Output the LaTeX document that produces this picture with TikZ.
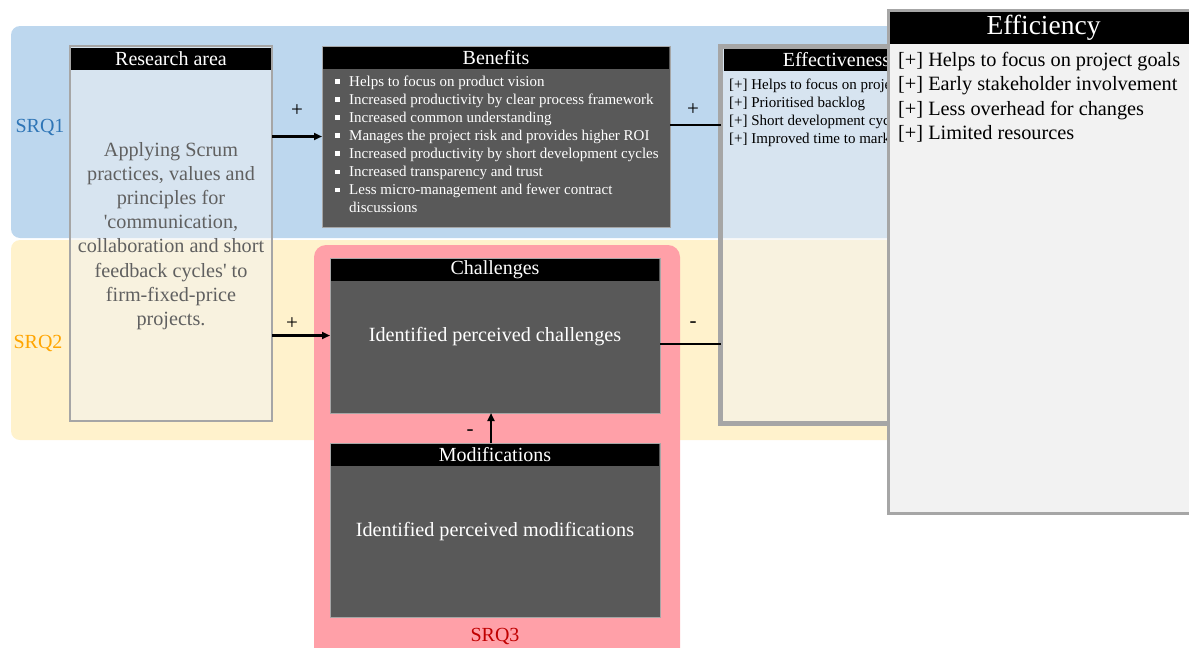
\documentclass[tikz,border=0pt]{standalone}
\usepackage{fontspec}
\setmainfont{Liberation Serif}
\usetikzlibrary{arrows.meta}

\definecolor{bandblue}{RGB}{189,215,238}
\definecolor{bandyellow}{RGB}{255,242,204}
\definecolor{srqpink}{RGB}{255,160,168}
\definecolor{darkfill}{RGB}{89,89,89}
\definecolor{framegray}{RGB}{166,166,166}
\definecolor{srqblue}{RGB}{46,117,182}
\definecolor{srqorange}{RGB}{255,165,0}
\definecolor{srqred}{RGB}{192,0,0}
\definecolor{paleGray}{RGB}{242,242,242}
\definecolor{bodygray}{RGB}{96,96,96}

\newcommand\fsz[2]{\fontsize{#1}{#2}\selectfont}
\newcommand\bul{\makebox[14pt][l]{\rule[2.5pt]{4.5pt}{4.5pt}}}
\newcommand\plusmark{{[+]}}

\tikzset{
  band/.style={anchor=north west, inner sep=0, outer sep=0, rounded corners=9pt},
  panel/.style={anchor=north west, inner sep=0, outer sep=0, draw=framegray},
  lightpanel/.style={panel, fill=paleGray, fill opacity=0.5},
  darkpanel/.style={panel, fill=darkfill, line width=1pt},
  header/.style={anchor=north, fill=black, text=white, inner sep=0, outer sep=0,
                 minimum height=22, font=\fsz{20}{22}},
  conn/.style={line width=2.5pt, draw=black},
  arr/.style={conn, -{Triangle[length=8pt,width=7pt]}},
  sign/.style={font=\fsz{21}{22}, inner sep=0},
  srq/.style={font=\fsz{20}{22}, inner sep=0},
  bodytext/.style={align=center, inner sep=0},
}

\begin{document}
\begin{tikzpicture}[x=1pt,y=-1pt]
\useasboundingbox (0,0) rectangle (1189,648);
\clip (0,0) rectangle (1189,648);

% research-question bands
\node[band, fill=bandblue, minimum width=980, minimum height=212] (band1) at (11,26) {};
\node[band, fill=bandyellow, minimum width=980, minimum height=200] (band2) at (11,240) {};
\node[srq, text=srqblue] (srq1) at (40,127) {SRQ1};
\node[srq, text=srqorange] (srq2) at (38,343) {SRQ2};

% SRQ3 container
\node[band, fill=srqpink, rounded corners=12pt, minimum width=366, minimum height=420] (band3) at (314,245) {};
\node[srq, text=srqred] (srq3) at (495,636) {SRQ3};

% research area
\node[lightpanel, line width=2pt, minimum width=202, minimum height=375] (research) at (70,46) {};
\node[header, minimum width=200] (rhead) at ([yshift=-1.5pt]research.north) {Research area};
\node[bodytext, text=bodygray, font=\fsz{20.2}{24.2}] (rtext) at (171,236)
  {Applying Scrum\\practices, values and\\principles for\\\textquotesingle communication,\\collaboration and short\\feedback cycles\textquotesingle{} to\\firm-fixed-price\\projects.};

% benefits
\node[darkpanel, minimum width=348, minimum height=181] (benefits) at (322,46) {};
\node[header, minimum width=346] (bhead) at ([yshift=-1pt]benefits.north) {Benefits};
\node[anchor=north west, inner sep=0, align=left, text=white, font=\fsz{15}{18.1}] (blist) at (335,75.3)
  {\bul Helps to focus on product vision\\
   \bul Increased productivity by clear process framework\\
   \bul Increased common understanding\\
   \bul Manages the project risk and provides higher ROI\\
   \bul Increased productivity by short development cycles\\
   \bul Increased transparency and trust\\
   \bul Less micro-management and fewer contract\\
   \hspace*{14pt}discussions};

% challenges
\node[darkpanel, minimum width=330, minimum height=155] (challenges) at (330,258) {};
\node[header, minimum width=328] (chead) at ([yshift=-1pt]challenges.north) {Challenges};
\node[bodytext, text=white, font=\fsz{20.2}{22}] (ctext) at (495,337) {Identified perceived challenges};

% modifications
\node[darkpanel, minimum width=330, minimum height=174] (mods) at (330,443) {};
\node[header, minimum width=328] (mhead) at ([yshift=-1pt]mods.north) {Modifications};
\node[bodytext, text=white, font=\fsz{20.2}{22}] (mtext) at (495,531.5) {Identified perceived modifications};

% effectiveness
\node[lightpanel, line width=5pt, minimum width=232, minimum height=377] (eff) at (720.5,46) {};
\node[header, minimum width=226] (ehead) at ([yshift=-2.5pt]eff.north) {Effectiveness};
\node[anchor=north west, inner sep=0, align=left, font=\fsz{15}{18}] (elist) at (729,79)
  {\plusmark{} Helps to focus on project goals\\
   \plusmark{} Prioritised backlog\\
   \plusmark{} Short development cycles\\
   \plusmark{} Improved time to market};

% connectors
\draw[arr] (research.east |- benefits.west) -- (benefits.west);
\node[sign] (p1) at (297,111) {+};
\draw[arr] (research.east |- challenges.west) -- (challenges.west);
\node[sign] (p2) at (292,324) {+};
\draw[conn] ([yshift=11.5pt]benefits.east) coordinate (bo) -- (bo -| eff.west);
\node[sign] (p3) at (693,110) {+};
\draw[conn] ([yshift=-8.5pt]challenges.east) coordinate (co) -- (co -| eff.west);
\node[sign] (m1) at (693,325) {-};
\draw[arr] ([xshift=-4pt]mods.north) -- ([xshift=-4pt]challenges.south);
\node[sign] (m2) at (470,433) {-};

% efficiency
\node[panel, fill=paleGray, line width=3pt, minimum width=310, minimum height=503] (effi) at (888.5,10.5) {};
\node[header, minimum width=307, minimum height=32, font=\fsz{27.5}{30}] (fhead) at ([yshift=-1.5pt]effi.north) {Efficiency};
\node[anchor=north west, inner sep=0, align=left, font=\fsz{20.3}{24.3}] (flist) at (898,52)
  {\plusmark{} Helps to focus on project goals\\
   \plusmark{} Early stakeholder involvement\\
   \plusmark{} Less overhead for changes\\
   \plusmark{} Limited resources};
\end{tikzpicture}
\end{document}
